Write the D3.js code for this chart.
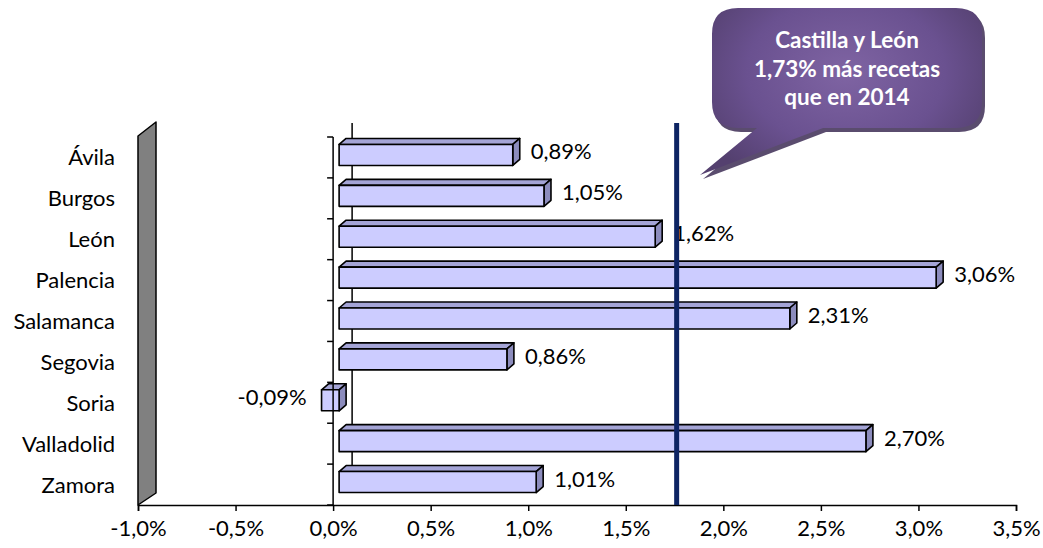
<!DOCTYPE html>
<html>
<head>
<meta charset="utf-8">
<script src="https://cdn.jsdelivr.net/npm/d3@7"></script>
<style>
  html, body { margin: 0; padding: 0; background: #fff; }
  svg { display: block; }
  text { font-family: Lato, "Open Sans", sans-serif; }
</style>
</head>
<body>
<svg id="chart" width="1043" height="548"></svg>
<script>
// ---- data ----
const categories = ["Ávila", "Burgos", "León", "Palencia", "Salamanca", "Segovia", "Soria", "Valladolid", "Zamora"];
const values = [0.89, 1.05, 1.62, 3.06, 2.31, 0.86, -0.09, 2.70, 1.01];
const xTicks = [-1.0, -0.5, 0.0, 0.5, 1.0, 1.5, 2.0, 2.5, 3.0, 3.5];
const regionValue = 1.73;
const calloutLines = ["Castilla y León", "1,73% más recetas", "que en 2014"];

// ---- setup ----
const svg = d3.select("#chart");
const locale = d3.formatLocale({decimal: ",", thousands: ".", grouping: [3], currency: ["", "€"], minus: "-"});
const fmt1 = locale.format(".1f");
const fmt2 = locale.format(".2f");
const FS = 22;

const x = d3.scaleLinear().domain([-1.0, 3.5]).range([138, 1016]);
const y = d3.scaleBand().domain(categories).range([137, 505]).padding(0);

const barDX = 6;                    // bar plane offset from front plane
const depthX = 7, depthY = -6;      // bar depth
const backDX = 18, backDY = -14;    // back plane offset
const bx = v => x(v) + barDX;

// ---- left wall ----
const wx = x(-1.0), y0 = y.range()[0], y1 = y.range()[1];
svg.append("polygon")
  .attr("points", [[wx, y0 - 1], [wx + backDX, y0 + backDY - 1], [wx + backDX, y1 - 12], [wx, y1]].map(p => p.join(",")).join(" "))
  .attr("fill", "#808080").attr("stroke", "#000").attr("stroke-width", 1.5).attr("stroke-linejoin", "round");

// ---- back zero line ----
svg.append("line")
  .attr("x1", x(0) + backDX + 1).attr("x2", x(0) + backDX + 1)
  .attr("y1", y0 + backDY).attr("y2", y1 - 12)
  .attr("stroke", "#000").attr("stroke-width", 1.5);

// ---- bars ----
const bars = svg.append("g");
categories.forEach((c, i) => {
  const v = values[i];
  const cy = y(c) + y.bandwidth() / 2;
  const top = cy - 13, bot = cy + 8;
  const xa = Math.min(bx(0), bx(v)), xb = Math.max(bx(0), bx(v));
  const g = bars.append("g").attr("stroke", "#000").attr("stroke-width", 1.6).attr("stroke-linejoin", "round");
  g.append("polygon")
    .attr("points", [[xa, top], [xa + depthX, top + depthY], [xb + depthX, top + depthY], [xb, top]].map(p => p.join(",")).join(" "))
    .attr("fill", "#a4a4d6");
  g.append("polygon")
    .attr("points", [[xb, top], [xb + depthX, top + depthY], [xb + depthX, bot + depthY], [xb, bot]].map(p => p.join(",")).join(" "))
    .attr("fill", "#8c8cbd");
  g.append("rect")
    .attr("x", xa).attr("y", top).attr("width", xb - xa).attr("height", bot - top)
    .attr("fill", "#ccccff");
  const lbl = svg.append("text")
    .attr("y", cy + 2)
    .attr("font-size", FS)
    .attr("fill", "#000")
    .text(fmt2(v) + "%");
  if (v >= 0) lbl.attr("x", xb + depthX + 11).attr("text-anchor", "start");
  else lbl.attr("x", xa - 15).attr("text-anchor", "end");
});

// ---- front vertical axis ----
svg.append("line")
  .attr("x1", x(0)).attr("x2", x(0)).attr("y1", y0).attr("y2", y1)
  .attr("stroke", "#000").attr("stroke-width", 1.5);
const bounds = categories.map(c => y(c)).concat([y1]);
svg.append("g").selectAll("line").data(bounds).join("line")
  .attr("x1", x(0) - 6).attr("x2", x(0)).attr("y1", d => d).attr("y2", d => d)
  .attr("stroke", "#000").attr("stroke-width", 1.5);

// category labels
svg.append("g").selectAll("text").data(categories).join("text")
  .attr("x", 115).attr("y", d => y(d) + y.bandwidth() / 2 + 8)
  .attr("text-anchor", "end").attr("font-size", FS).attr("fill", "#000")
  .text(d => d);

// ---- x axis ----
const xAxis = d3.axisBottom(x).tickValues(xTicks).tickSize(6).tickPadding(9)
  .tickFormat(d => fmt1(d) + "%");
const gx = svg.append("g").attr("transform", `translate(0,${y1})`).call(xAxis);
gx.select(".domain").attr("stroke", "#000").attr("stroke-width", 1.5);
gx.selectAll(".tick line").attr("stroke", "#000").attr("stroke-width", 1.5);
gx.selectAll(".tick text").attr("font-size", FS).attr("font-family", "Lato, sans-serif").attr("fill", "#000");

// ---- regional line ----
svg.append("line")
  .attr("x1", bx(regionValue)).attr("x2", bx(regionValue))
  .attr("y1", y0 + backDY).attr("y2", y1)
  .attr("stroke", "#0d2463").attr("stroke-width", 5);

// ---- callout ----
const defs = svg.append("defs");
const grad = defs.append("radialGradient").attr("id", "cg")
  .attr("gradientUnits", "userSpaceOnUse").attr("cx", 846).attr("cy", 72).attr("r", 165)
  .attr("gradientTransform", "translate(846,72) scale(1,0.75) translate(-846,-72)");
grad.append("stop").attr("offset", "0%").attr("stop-color", "#7f64a3");
grad.append("stop").attr("offset", "60%").attr("stop-color", "#6a5190");
grad.append("stop").attr("offset", "100%").attr("stop-color", "#54406f");

function calloutPath(ox, oy) {
  const L = 712 + ox, R = 982 + ox, T = 8 + oy, B = 128 + oy, r = 26;
  const t1 = 757 + ox, t2 = 823 + ox, tipX = 700 + ox, tipY = 175 + oy;
  return `M${L + r},${T} H${R - r} Q${R},${T} ${R},${T + r} V${B - r} Q${R},${B} ${R - r},${B} ` +
         `H${t2} L${tipX},${tipY} L${t1},${B} H${L + r} Q${L},${B} ${L},${B - r} V${T + r} Q${L},${T} ${L + r},${T} Z`;
}
svg.append("path").attr("d", calloutPath(3, 4)).attr("fill", "#3d2d55").attr("opacity", 0.85);
svg.append("path").attr("d", calloutPath(0, 0)).attr("fill", "url(#cg)");

svg.append("g").selectAll("text").data(calloutLines).join("text")
  .attr("x", 847).attr("y", (d, i) => 48 + i * 28.5)
  .attr("text-anchor", "middle").attr("font-size", 22.5).attr("font-weight", "bold")
  .attr("fill", "#fff").text(d => d);
</script>
</body>
</html>
